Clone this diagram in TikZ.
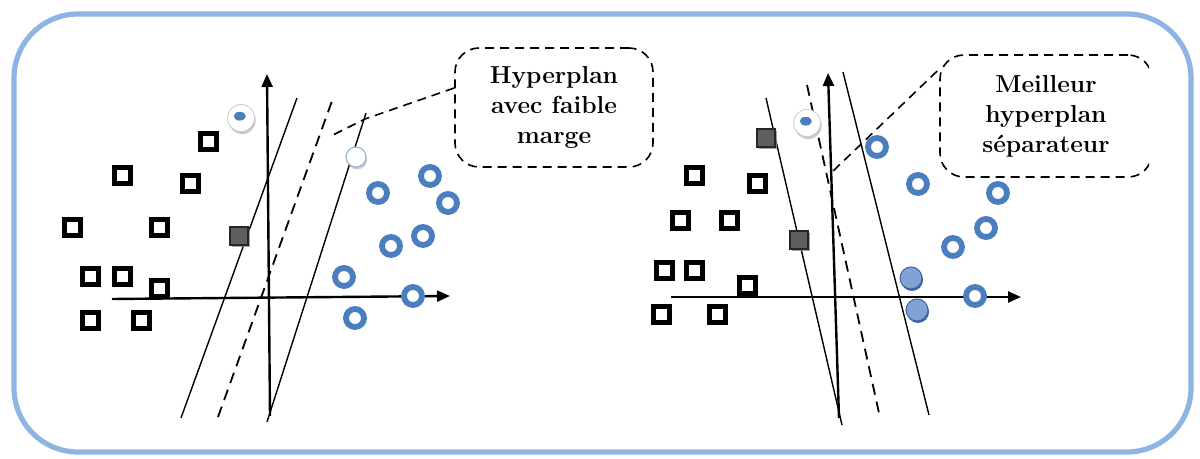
\documentclass[tikz,border=0pt]{standalone}
\usetikzlibrary{arrows.meta,shadows}
\definecolor{framecol}{RGB}{141,180,227}
\definecolor{ringblue}{RGB}{74,126,190}
\definecolor{ballblue}{RGB}{128,162,212}
\definecolor{ballrim}{RGB}{60,100,165}
\definecolor{sqgray}{RGB}{95,95,95}
\tikzset{
  frame/.style={draw=framecol, line width=2.6pt, rounded corners=32pt},
  sq/.style={rectangle, draw=black, fill=white, line width=2.5pt, minimum size=8pt, inner sep=0pt},
  gsq/.style={rectangle, draw=black!85, fill=sqgray, line width=0.8pt, minimum size=9pt, inner sep=0pt,
    drop shadow={shadow xshift=0.8pt, shadow yshift=-1pt, fill=black!45, opacity=0.8}},
  ring/.style={circle, draw=ringblue, fill=white, line width=2.9pt, minimum size=9pt, inner sep=0pt},
  ball/.style={circle, draw=ballrim, fill=ballblue, line width=0.5pt, minimum size=11pt, inner sep=0pt,
    drop shadow={shadow xshift=0.5pt, shadow yshift=-1pt, fill=ballrim, opacity=1}},
  disk/.style={circle, draw=black!20, fill=white, line width=0.4pt, minimum size=13.5pt, inner sep=0pt,
    drop shadow={shadow xshift=0.6pt, shadow yshift=-1.3pt, fill=black!30, opacity=0.7},
    path picture={\fill[ringblue] ([xshift=-0.6pt,yshift=0.9pt]path picture bounding box.center) ellipse (3pt and 2.2pt);}},
  wcirc/.style={circle, draw=ringblue!55, fill=white, line width=0.6pt, minimum size=10pt, inner sep=0pt,
    drop shadow={shadow xshift=0.6pt, shadow yshift=-1.2pt, fill=black!30, opacity=0.7}},
  axis/.style={line width=1.2pt, -{Triangle[length=6.5pt,width=5.5pt]}},
  hplane/.style={line width=0.7pt},
  hdash/.style={line width=0.9pt, dash pattern=on 5.5pt off 3.5pt},
  leader/.style={line width=0.8pt, dash pattern=on 4.5pt off 3pt},
  callout/.style={draw, line width=0.8pt, dash pattern=on 4.5pt off 3pt, rounded corners=12pt,
    align=center, inner sep=0pt, font=\fontsize{12.3}{15}\selectfont\bfseries},
}
\begin{document}
\begin{tikzpicture}[x=0.5pt, y=-0.5pt]
\useasboundingbox (0,0) rectangle (1200,459);
% outer frame
\draw[frame] (14,14) rectangle (1191,452);

% ---------- left panel: hyperplane with a small margin ----------
\coordinate (lxo) at (112,299);
\coordinate (lxe) at (450,296);
\coordinate (lyo) at (270,416);
\coordinate (lye) at (267,74);
\coordinate (la1) at (181,418); \coordinate (la2) at (297,98);
\coordinate (lm1) at (218,417); \coordinate (lm2) at (332,101);
\coordinate (lb1) at (267,422); \coordinate (lb2) at (366,113);
\coordinate (lk)  at (365,119);
\coordinate (lt)  at (331,136);

\draw[hplane] (la1) -- (la2);
\draw[hdash]  (lm1) -- (lm2);
\draw[hplane] (lb1) -- (lb2);
\draw[axis] (lxo) -- (lxe);
\draw[axis] (lyo) -- (lye);

\foreach \n/\p in {s1/{(208,142)}, s2/{(122,176)}, s3/{(190,184)}, s4/{(72,228)}, s5/{(159,228)},
                   s6/{(90,277)}, s7/{(122,277)}, s8/{(159,289)}, s9/{(90,321)}, s10/{(141,321)}}
  \node[sq] (L\n) at \p {};
\node[gsq] (Lg1) at (239,236) {};
\node[disk] (Ld) at (241,118) {};
\node[wcirc] (Lw) at (356,157) {};
\foreach \n/\p in {r1/{(430,176)}, r2/{(378,193)}, r3/{(448,203)}, r4/{(423,236)},
                   r5/{(391,246)}, r6/{(344,277)}, r7/{(413,296)}, r8/{(355,318)}}
  \node[ring] (L\n) at \p {};

\node[callout, minimum width=99pt, minimum height=59.5pt] (hyp1) at (554,107.5)
  {Hyperplan\\avec faible\\marge};
\draw[leader] ([yshift=9.75pt]hyp1.west) -- (lk) -- (lt);

% ---------- right panel: best separating hyperplane ----------
\coordinate (rxo) at (671,297);
\coordinate (rxe) at (1021,297);
\coordinate (ryo) at (839,418);
\coordinate (rye) at (828,73);
\coordinate (ra1) at (766,98);  \coordinate (ra2) at (842,425);
\coordinate (rm1) at (807,85);  \coordinate (rm2) at (879,413);
\coordinate (rb1) at (843,72);  \coordinate (rb2) at (929,415);
\coordinate (rt)  at (830,174);

\draw[hplane] (ra1) -- (ra2);
\draw[hdash]  (rm1) -- (rm2);
\draw[hplane] (rb1) -- (rb2);
\draw[axis] (rxo) -- (rxe);
\draw[axis] (ryo) -- (rye);

\foreach \n/\p in {s1/{(694,176)}, s2/{(757,184)}, s3/{(680,221)}, s4/{(729,221)}, s5/{(664,271)},
                   s6/{(694,271)}, s7/{(747,286)}, s8/{(661,315)}, s9/{(717,315)}}
  \node[sq] (R\n) at \p {};
\node[gsq] (Rg1) at (766,138) {};
\node[gsq] (Rg2) at (799,240) {};
\node[disk] (Rd) at (807,123) {};
\foreach \n/\p in {r1/{(877,147)}, r2/{(918,184)}, r3/{(998,193)}, r4/{(986,228)},
                   r5/{(953,247)}, r6/{(975,296)}}
  \node[ring] (R\n) at \p {};
\node[ball] (Rb1) at (911,278) {};
\node[ball] (Rb2) at (917,310) {};

\begin{scope}
  \clip (0,0) rectangle (1149,459);
  \node[callout, minimum width=106pt, minimum height=61pt] (hyp2) at (1046,116)
    {Meilleur\\hyperplan\\séparateur};
\end{scope}
\draw[leader] ([xshift=-1pt,yshift=22.5pt]hyp2.west) -- (rt);
\end{tikzpicture}
\end{document}
